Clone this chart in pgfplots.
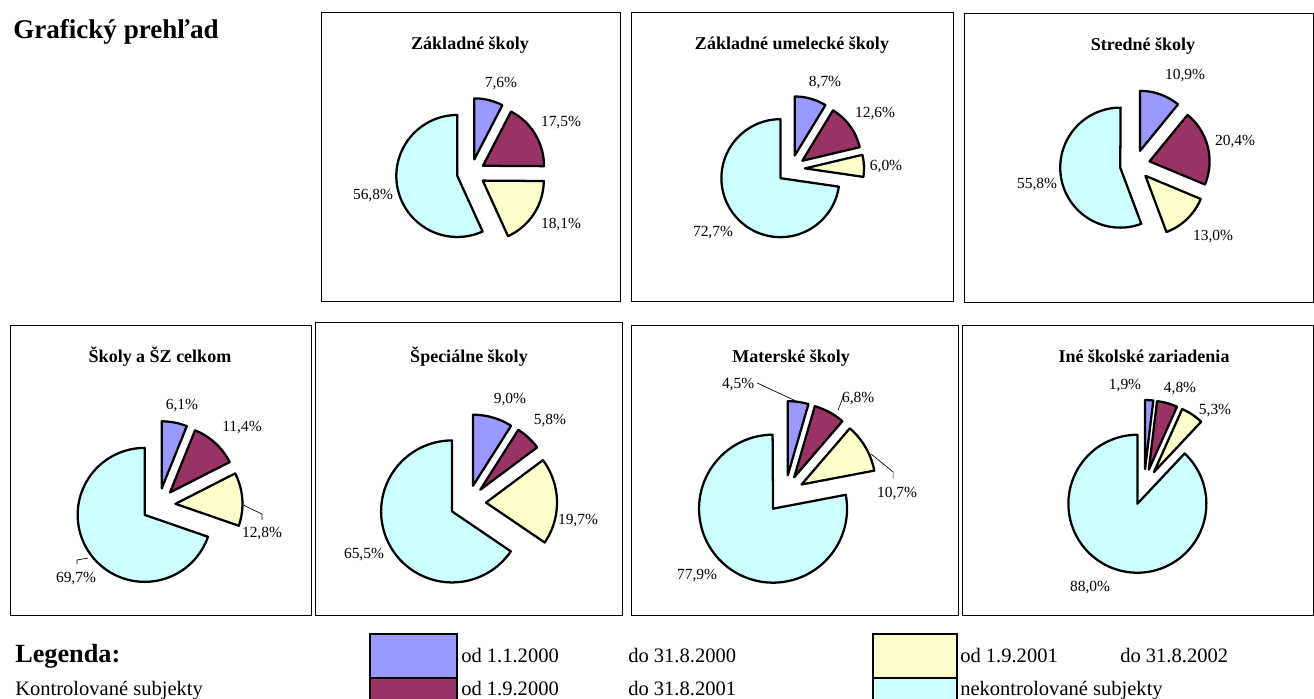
\documentclass[border=0pt]{standalone}
\usepackage{pgfplots}
\pgfplotsset{compat=1.18}
\usepackage{fontspec}
\setmainfont{Liberation Serif}
\definecolor{cA}{HTML}{9999FF}
\definecolor{cB}{HTML}{993366}
\definecolor{cC}{HTML}{FFFFCC}
\definecolor{cD}{HTML}{CCFFFF}
\newcommand\lab{\fontsize{11.6}{14}\selectfont}
\newcommand\ttl{\bfseries\fontsize{13.5}{16}\selectfont}
\newcommand\leg{\fontsize{15.4}{18}\selectfont}

% one slice: #1 cumulative start (%), #2 value (%), #3 colour
\newcommand\slice[3]{%
  \pgfmathsetmacro\aS{90-3.6*(#1+#2)}%
  \pgfmathsetmacro\aE{90-3.6*(#1)}%
  \pgfmathsetmacro\aM{90-3.6*(#1+#2/2)}%
  \pgfmathsetmacro\sx{\pcx+\pd*cos(\aM)}%
  \pgfmathsetmacro\sy{\pcy-\pd*sin(\aM)}%
  \edef\doslice{\noexpand\addplot[fill=#3, draw=black, line width=1.7pt, line join=round,
     domain=\aS:\aE, samples=90, variable=\noexpand\t]
     ({\sx+\pr*cos(\noexpand\t)},{\sy-\pr*sin(\noexpand\t)}) -- (\sx,\sy) -- cycle;}%
  \doslice
}
% pie: cx cy r explode v1 v2 v3 v4
\newcommand\pie[8]{%
  \def\pcx{#1}\def\pcy{#2}\def\pr{#3}\def\pd{#4}%
  \slice{0}{#5}{cA}%
  \pgfmathsetmacro\cumB{#5}\slice{\cumB}{#6}{cB}%
  \pgfmathsetmacro\cumC{#5+#6}\slice{\cumC}{#7}{cC}%
  \pgfmathsetmacro\cumD{#5+#6+#7}\slice{\cumD}{#8}{cD}%
}
\pgfplotsset{chartbox/.style={anchor=north west, scale only axis, y dir=reverse,
  xtick=\empty, ytick=\empty, axis line style={line width=0.75pt, black},
  clip=false}}

\begin{document}
\begin{tikzpicture}[x=0.75pt,y=-0.75pt]
\path[use as bounding box] (0,0) rectangle (1314,699);

\node[anchor=base west, inner sep=0, font=\bfseries\fontsize{20.3}{24}\selectfont] at (13,39) {Grafický prehľad};

% ---- Základné školy
\begin{axis}[chartbox, at={(321,12)}, width=224.25pt, height=216.75pt,
  xmin=321, xmax=620, ymin=12, ymax=301]
\pie{471}{173}{61}{14}{7.6}{17.5}{18.1}{56.8}
\node[font=\ttl, anchor=base] at (470,49) {Základné školy};
\node[font=\lab] at (501,84) {7,6\%};
\node[font=\lab] at (561,123) {17,5\%};
\node[font=\lab] at (561,225) {18,1\%};
\node[font=\lab] at (373,196) {56,8\%};
\end{axis}

% ---- Základné umelecké školy
\begin{axis}[chartbox, at={(631,12)}, width=241.5pt, height=216.75pt,
  xmin=631, xmax=953, ymin=12, ymax=301]
\pie{791}{169}{59}{14}{8.7}{12.6}{6.0}{72.7}
\node[font=\ttl, anchor=base] at (792,49) {Základné umelecké školy};
\node[font=\lab] at (825,83) {8,7\%};
\node[font=\lab] at (875,114) {12,6\%};
\node[font=\lab] at (886,167) {6,0\%};
\node[font=\lab] at (713,233) {72,7\%};
\end{axis}

% ---- Stredné školy
\begin{axis}[chartbox, at={(964,13)}, width=261.75pt, height=216.75pt,
  xmin=964, xmax=1313, ymin=13, ymax=302]
\pie{1135}{165}{60}{15}{10.9}{20.4}{13.0}{55.8}
\node[font=\ttl, anchor=base] at (1143,50) {Stredné školy};
\node[font=\lab] at (1185,76) {10,9\%};
\node[font=\lab] at (1235,142) {20,4\%};
\node[font=\lab] at (1213,237) {13,0\%};
\node[font=\lab] at (1037,185) {55,8\%};
\end{axis}

% ---- Školy a ŠZ celkom
\begin{axis}[chartbox, at={(10,325)}, width=225.75pt, height=217.5pt,
  xmin=10, xmax=311, ymin=325, ymax=615]
\pie{158.5}{505}{67}{17}{6.1}{11.4}{12.8}{69.7}
\node[font=\ttl, anchor=base] at (160,362) {Školy a ŠZ celkom};
\node[font=\lab] at (182,406) {6,1\%};
\node[font=\lab] at (242,428) {11,4\%};
\node[font=\lab] at (262,534) {12,8\%};
\node[font=\lab] at (76,579) {69,7\%};
\draw[line width=0.5pt] (243,505) -- (262,514) -- (262,520);
\draw[line width=0.5pt] (77,564) -- (77,560) -- (88,558);
\end{axis}

% ---- Špeciálne školy
\begin{axis}[chartbox, at={(315,322)}, width=230.25pt, height=219.75pt,
  xmin=315, xmax=622, ymin=322, ymax=615]
\pie{468}{503}{71}{18}{9.0}{5.8}{19.7}{65.5}
\node[font=\ttl, anchor=base] at (469,362) {Špeciálne školy};
\node[font=\lab] at (510,400) {9,0\%};
\node[font=\lab] at (550,421) {5,8\%};
\node[font=\lab] at (578,521) {19,7\%};
\node[font=\lab] at (364,555) {65,5\%};
\end{axis}

% ---- Materské školy
\begin{axis}[chartbox, at={(631,325)}, width=245.25pt, height=217.5pt,
  xmin=631, xmax=958, ymin=325, ymax=615]
\pie{785}{494}{74}{19}{4.5}{6.8}{10.7}{77.9}
\node[font=\ttl, anchor=base] at (791,362) {Materské školy};
\node[font=\lab] at (738,385) {4,5\%};
\node[font=\lab] at (858,399) {6,8\%};
\node[font=\lab] at (897,494) {10,7\%};
\node[font=\lab] at (697,576) {77,9\%};
\draw[line width=0.5pt] (757,383) -- (798,402);
\draw[line width=0.5pt] (843,397) -- (838,410);
\draw[line width=0.5pt] (871,454) -- (893,472) -- (893,478);
\end{axis}

% ---- Iné školské zariadenia
\begin{axis}[chartbox, at={(962,325)}, width=263.25pt, height=217.5pt,
  xmin=962, xmax=1313, ymin=325, ymax=615]
\pie{1144}{487}{69}{18}{1.9}{4.8}{5.3}{88.0}
\node[font=\ttl, anchor=base] at (1144,362) {Iné školské zariadenia};
\node[font=\lab] at (1125,386) {1,9\%};
\node[font=\lab] at (1180,389) {4,8\%};
\node[font=\lab] at (1215,411) {5,3\%};
\node[font=\lab] at (1090,588) {88,0\%};
\end{axis}

% ---- legend
\node[anchor=base west, inner sep=0, font=\bfseries\fontsize{19.7}{23}\selectfont] at (15,662) {Legenda:};
\node[anchor=base west, inner sep=0, font=\leg] at (15,695) {Kontrolované subjekty};
\draw[line width=1.5pt, fill=cA] (370,634) rectangle (457,678);
\draw[line width=1.5pt, fill=cB] (370,678) rectangle (457,705);
\draw[line width=1.5pt, fill=cC] (873,634) rectangle (957,678);
\draw[line width=1.5pt, fill=cD] (873,678) rectangle (957,705);
\node[anchor=base west, inner sep=0, font=\leg] at (461,662) {od 1.1.2000};
\node[anchor=base west, inner sep=0, font=\leg] at (628,662) {do 31.8.2000};
\node[anchor=base west, inner sep=0, font=\leg] at (461,695) {od 1.9.2000};
\node[anchor=base west, inner sep=0, font=\leg] at (628,695) {do 31.8.2001};
\node[anchor=base west, inner sep=0, font=\leg] at (960,662) {od 1.9.2001};
\node[anchor=base west, inner sep=0, font=\leg] at (1120,662) {do 31.8.2002};
\node[anchor=base west, inner sep=0, font=\leg] at (960,695) {nekontrolované subjekty};
\end{tikzpicture}
\end{document}
